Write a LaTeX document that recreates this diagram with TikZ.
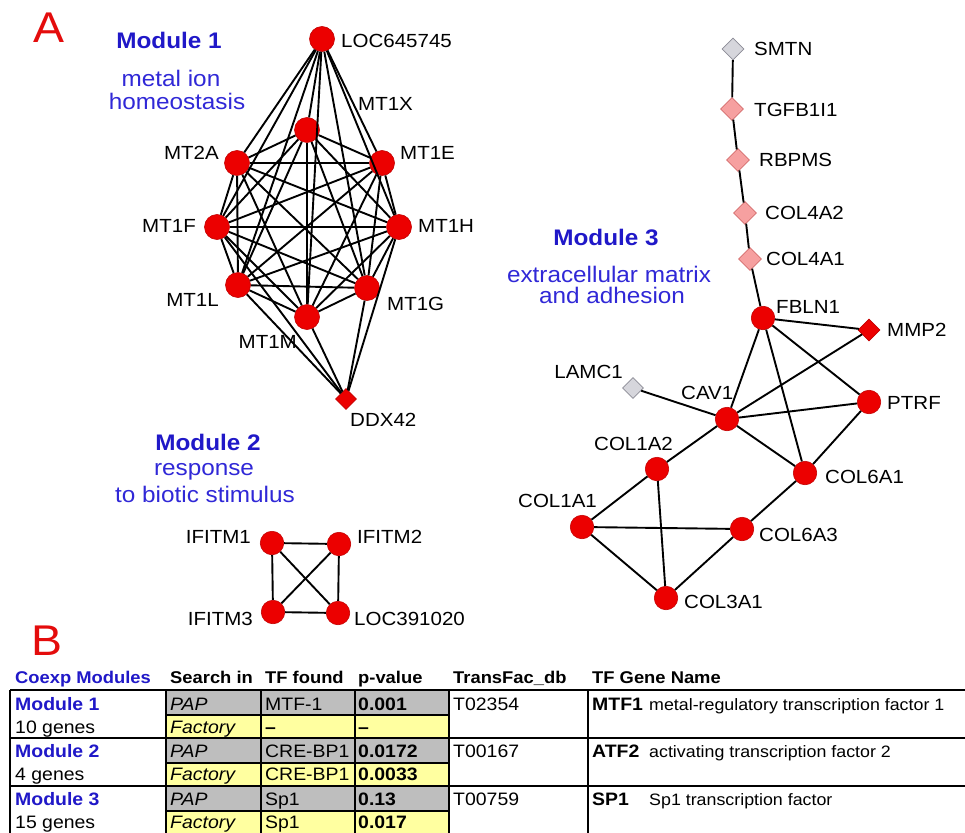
\documentclass[tikz,border=0pt]{standalone}
\usepackage{fontspec}
\setmainfont{Liberation Sans}[FakeStretch=1.08]
\usetikzlibrary{shapes.geometric}

\definecolor{nodered}{RGB}{236,0,0}
\definecolor{nodeedge}{RGB}{196,0,0}
\definecolor{pinkfill}{RGB}{246,160,160}
\definecolor{pinkedge}{RGB}{212,108,108}
\definecolor{greyfill}{RGB}{214,214,220}
\definecolor{greyedge}{RGB}{140,140,150}
\definecolor{modblue}{RGB}{32,24,200}
\definecolor{subblue}{RGB}{48,40,215}
\definecolor{cellgrey}{RGB}{190,190,190}
\definecolor{cellyellow}{RGB}{255,255,160}
\definecolor{panelred}{RGB}{228,12,12}

\begin{document}
\begin{tikzpicture}[x=1pt,y=-1pt,
  gene/.style={circle,fill=nodered,draw=nodeedge,line width=0.6pt,inner sep=0pt,minimum size=25pt},
  genesm/.style={gene,minimum size=23.5pt},
  reddia/.style={diamond,fill=nodered,draw=nodeedge,line width=0.6pt,inner sep=0pt,minimum size=22pt},
  pinkdia/.style={diamond,fill=pinkfill,draw=pinkedge,line width=0.6pt,inner sep=0pt,minimum size=23pt},
  greydia/.style={diamond,fill=greyfill,draw=greyedge,line width=0.6pt,inner sep=0pt,minimum size=22pt},
  glabel/.style={inner sep=0pt,font=\fontsize{19}{22}\selectfont},
  link/.style={line width=1.9pt,black},
  modtitle/.style={inner sep=0pt,anchor=base,text=modblue,font=\bfseries\fontsize{22.5}{26}\selectfont},
  modsub/.style={inner sep=0pt,anchor=base,text=subblue,font=\fontsize{22.5}{26}\selectfont},
  panel/.style={inner sep=0pt,anchor=base west,text=panelred,font=\fontsize{43}{48}\selectfont},
  thead/.style={inner sep=0pt,anchor=base west,font=\bfseries\fontsize{17}{20}\selectfont},
  tcell/.style={inner sep=0pt,anchor=base west,font=\fontsize{18}{20}\selectfont},
  tbold/.style={tcell,font=\bfseries\fontsize{18}{20}\selectfont},
  tital/.style={tcell,font=\itshape\fontsize{18}{20}\selectfont},
  tdesc/.style={inner sep=0pt,anchor=base west,font=\fontsize{16.5}{19}\selectfont},
  grid/.style={line width=1.8pt,black}
]
\useasboundingbox (0,0) rectangle (965,832);
\fill[white] (0,0) rectangle (965,832);

% ---------- panel letters ----------
\node[panel] (panelA) at (33,43) {A};
\node[panel] (panelB) at (31,655) {B};

% ---------- Module 1 ----------
\node[modtitle] (t1) at (169,49) {Module 1};
\node[modsub] (t1a) at (171,87) {metal ion};
\node[modsub] (t1b) at (177,110) {homeostasis};

\node[gene] (m1) at (322,39) {};
\node[gene] (m2) at (307,130) {};
\node[gene] (m3) at (237,163) {};
\node[gene] (m4) at (382,163) {};
\node[gene] (m5) at (217,227) {};
\node[gene] (m6) at (399,227) {};
\node[gene] (m7) at (238,285) {};
\node[gene] (m8) at (367,288) {};
\node[gene] (m9) at (307,317) {};
\node[reddia,minimum size=21pt] (ddx) at (346,399) {};

% every pair of the ten module-1 genes is linked
\foreach \i in {1,...,8}{
  \pgfmathtruncatemacro\nxt{\i+1}
  \foreach \j in {\nxt,...,9}{
    \draw[link] (m\i) -- (m\j);
  }
}
\foreach \k in {5,7,9,8,6}{
  \draw[link] (ddx) -- (m\k);
}

\node[glabel,anchor=west] (l1) at (341,41) {LOC645745};
\node[glabel,anchor=west] (l2) at (358,104) {MT1X};
\node[glabel,anchor=east] (l3) at (219,153) {MT2A};
\node[glabel,anchor=west] (l4) at (400,153) {MT1E};
\node[glabel,anchor=east] (l5) at (196,226) {MT1F};
\node[glabel,anchor=west] (l6) at (418,226) {MT1H};
\node[glabel,anchor=east] (l7) at (219,300) {MT1L};
\node[glabel,anchor=west] (l8) at (387,304) {MT1G};
\node[glabel,anchor=east] (l9) at (297,342) {MT1M};
\node[glabel,anchor=west] (lddx) at (350,420) {DDX42};

% ---------- Module 2 ----------
\node[modtitle] (t2) at (208,450) {Module 2};
\node[modsub] (t2a) at (204,475) {response};
\node[modsub] (t2b) at (205,502) {to biotic stimulus};

\node[genesm] (i1) at (272,543) {};
\node[genesm] (i2) at (339,544) {};
\node[genesm] (i3) at (273,612) {};
\node[genesm] (i4) at (338,613) {};
\foreach \a/\b in {i1/i2,i1/i3,i1/i4,i2/i3,i2/i4,i3/i4}{
  \draw[link] (\a) -- (\b);
}
\node[glabel,anchor=east] (li1) at (251,537) {IFITM1};
\node[glabel,anchor=west] (li2) at (357,537) {IFITM2};
\node[glabel,anchor=east] (li3) at (253,619) {IFITM3};
\node[glabel,anchor=west] (li4) at (354,619) {LOC391020};

% ---------- Module 3 ----------
\node[modtitle] (t3) at (606,245) {Module 3};
\node[modsub] (t3a) at (609,282) {extracellular matrix};
\node[modsub] (t3b) at (612,303) {and adhesion};

\node[greydia] (smtn) at (733,49) {};
\node[pinkdia] (tgfb) at (732,109) {};
\node[pinkdia] (rbpms) at (738,160) {};
\node[pinkdia] (c4a2) at (745,213) {};
\node[pinkdia] (c4a1) at (750,259) {};
\node[genesm] (fbln) at (763,318) {};
\node[reddia] (mmp2) at (869,330) {};
\node[greydia,minimum size=21pt] (lamc) at (633,388) {};
\node[genesm] (cav1) at (727,419) {};
\node[genesm] (ptrf) at (869,402) {};
\node[genesm] (c1a2) at (657,469) {};
\node[genesm] (c6a1) at (805,473) {};
\node[genesm] (c1a1) at (582,527) {};
\node[genesm] (c6a3) at (742,529) {};
\node[genesm] (c3a1) at (666,598) {};

\foreach \a/\b in {smtn/tgfb,tgfb/rbpms,rbpms/c4a2,c4a2/c4a1,c4a1/fbln,
                   fbln/mmp2,fbln/cav1,fbln/c6a1,fbln/ptrf,mmp2/cav1,
                   lamc/cav1,cav1/ptrf,cav1/c6a1,cav1/c1a2,ptrf/c6a1,
                   c6a1/c6a3,c1a2/c1a1,c1a2/c3a1,c1a1/c6a3,c1a1/c3a1,c6a3/c3a1}{
  \draw[link] (\a) -- (\b);
}

\node[glabel,anchor=west] (lsmtn) at (754,49) {SMTN};
\node[glabel,anchor=west] (ltgfb) at (754,110) {TGFB1I1};
\node[glabel,anchor=west] (lrbpms) at (759,160) {RBPMS};
\node[glabel,anchor=west] (lc4a2) at (765,213) {COL4A2};
\node[glabel,anchor=west] (lc4a1) at (766,259) {COL4A1};
\node[glabel,anchor=west] (lfbln) at (776,307) {FBLN1};
\node[glabel,anchor=west] (lmmp2) at (887,330) {MMP2};
\node[glabel,anchor=east] (llamc) at (623,372) {LAMC1};
\node[glabel,anchor=west] (lcav1) at (681,393) {CAV1};
\node[glabel,anchor=west] (lptrf) at (887,403) {PTRF};
\node[glabel,anchor=west] (lc1a2) at (594,444) {COL1A2};
\node[glabel,anchor=west] (lc6a1) at (825,477) {COL6A1};
\node[glabel,anchor=west] (lc1a1) at (518,501) {COL1A1};
\node[glabel,anchor=west] (lc6a3) at (759,535) {COL6A3};
\node[glabel,anchor=west] (lc3a1) at (684,602) {COL3A1};

% ---------- Table ----------
\node[thead,text=modblue] (h1) at (15,683) {Coexp Modules};
\node[thead] (h2) at (170,683) {Search in};
\node[thead] (h3) at (265,683) {TF found};
\node[thead] (h4) at (358,683) {p-value};
\node[thead] (h5) at (453,683) {TransFac\_db};
\node[thead] (h6) at (592,683) {TF Gene Name};

% shaded cells: PAP rows grey, Factory rows yellow
\foreach \r in {0,1,2}{
  \pgfmathsetmacro\top{690+48*\r}
  \fill[cellgrey] (166,\top) rectangle (449,\top+25);
  \fill[cellyellow] (166,\top+25) rectangle (449,\top+48);
  \draw[grid] (166,\top+25) -- (449,\top+25);
}
% rules
\foreach \yy in {690,738,786}{
  \draw[grid] (10,\yy) -- (966,\yy);
}
\foreach \xx in {10,166,261,355,449,588}{
  \draw[grid] (\xx,690) -- (\xx,834);
}

\foreach \r/\modname/\genes/\tfa/\tfb/\pa/\pb/\tid/\gsym/\gdesc in {
    0/Module 1/10 genes/MTF-1/\textbf{–}/0.001/–/T02354/MTF1/metal-regulatory transcription factor 1,
    1/Module 2/4 genes/CRE-BP1/CRE-BP1/0.0172/0.0033/T00167/ATF2/activating transcription factor 2,
    2/Module 3/15 genes/Sp1/Sp1/0.13/0.017/T00759/SP1/Sp1 transcription factor}{
  \pgfmathsetmacro\ya{710+47.5*\r}
  \pgfmathsetmacro\yb{733+47.5*\r}
  \node[tbold,text=modblue] (mod\r) at (15,\ya) {\modname};
  \node[tcell] (gen\r) at (15,\yb) {\genes};
  \node[tital] (pap\r) at (170,\ya) {PAP};
  \node[tital] (fac\r) at (170,\yb) {Factory};
  \node[tcell] (tfa\r) at (265,\ya) {\tfa};
  \node[tcell] (tfb\r) at (265,\yb) {\tfb};
  \node[tbold] (pa\r) at (358,\ya) {\pa};
  \node[tbold] (pb\r) at (358,\yb) {\pb};
  \node[tcell] (tid\r) at (453,\ya) {\tid};
  \node[tbold] (sym\r) at (592,\ya) {\gsym};
  \node[tdesc] (desc\r) at (649,\ya) {\gdesc};
}
\end{tikzpicture}
\end{document}
